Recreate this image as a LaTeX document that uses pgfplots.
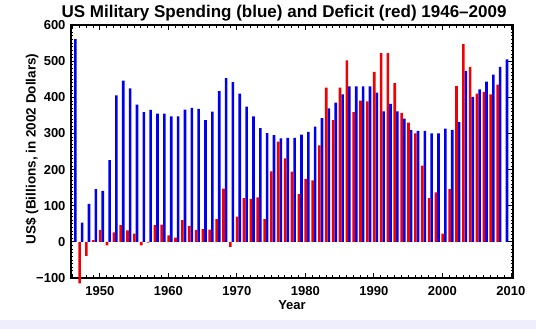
\documentclass[border=0pt]{standalone}
\usepackage{fontspec}
\setmainfont{Liberation Sans}
\usepackage{pgfplots}
\pgfplotsset{compat=1.18}
\usepackage{pgfplotstable}
\definecolor{barblue}{RGB}{0,0,240}
\definecolor{barred}{RGB}{240,0,0}
\definecolor{strip}{RGB}{238,238,252}

\pgfplotstableread{
year val
1946 561
1947 53
1948 105
1949 146
1950 141
1951 226
1952 405
1953 446
1954 425
1955 380
1956 359
1957 365
1958 355
1959 355
1960 347
1961 347
1962 366
1963 371
1964 368
1965 337
1966 360
1967 417
1968 453
1969 442
1970 410
1971 374
1972 347
1973 315
1974 301
1975 295
1976 286
1977 288
1978 288
1979 297
1980 304
1981 319
1982 342
1983 369
1984 385
1985 408
1986 430
1987 430
1988 430
1989 430
1990 413
1991 361
1992 382
1993 361
1994 341
1995 309
1996 307
1997 307
1998 300
1999 300
2000 313
2001 310
2002 331
2003 473
2004 401
2005 422
2006 443
2007 463
2008 484
2009 505
}\military

\pgfplotstableread{
year val
1947 -115
1948 -39
1949 5
1950 33
1951 -10
1952 26
1953 46
1954 32
1955 23
1956 -10
1957 -2
1958 46
1959 48
1960 18
1961 12
1962 60
1963 44
1964 33
1965 35
1966 34
1967 63
1968 147
1969 -14
1970 70
1971 121
1972 119
1973 123
1974 63
1975 195
1976 277
1977 231
1978 194
1979 132
1980 174
1981 170
1982 267
1983 427
1984 337
1985 427
1986 502
1987 359
1988 391
1989 389
1990 470
1991 522
1992 522
1993 439
1994 357
1995 330
1996 300
1997 211
1998 121
1999 137
2000 23
2001 146
2002 431
2003 547
2004 484
2005 410
2006 415
2007 408
2008 435
}\deficit

\begin{document}
\begin{tikzpicture}
\path[use as bounding box] (0pt,0pt) rectangle (536pt,329pt);
\fill[strip] (0pt,0pt) rectangle (536pt,9pt);
\begin{axis}[
  at={(71pt,51pt)}, anchor=south west,
  width=442pt, height=253pt, scale only axis,
  xmin=1945.8, xmax=2010.3, ymin=-100, ymax=600,
  clip=false,
  axis line style={line width=1.2pt},
  tick style={black, line width=0.8pt},
  tick align=inside,
  major tick length=5pt, minor tick length=2.5pt,
  xtick={1940,1950,...,2010}, minor x tick num=9,
  ytick={-100,0,...,600}, minor y tick num=9,
  yticklabels={−100,0,100,200,300,400,500,600},
  /pgf/number format/assume math mode=true,
  x tick label style={/pgf/number format/1000 sep=},
  ticklabel style={font=\fontsize{13}{13}\selectfont\bfseries},
  xticklabel style={anchor=base, yshift=-18pt},
  yticklabel style={anchor=east, xshift=-2pt},
  title={US Military Spending (blue) and Deficit (red) 1946–2009},
  every axis title/.style={at={(axis description cs:0.482,1)}, anchor=base, yshift=8pt,
    font=\fontsize{17}{17}\selectfont\bfseries},
  xlabel={Year},
  every axis x label/.style={at={(axis description cs:0.5,0)}, anchor=base, yshift=-32pt,
    font=\fontsize{13}{13}\selectfont\bfseries},
  ylabel={US\$ (Billions, in 2002 Dollars)},
  every axis y label/.style={at={(axis description cs:-0.088,0.51)}, rotate=90, anchor=center,
    font=\fontsize{13.5}{13.5}\selectfont\bfseries},
]
\addplot[ybar, bar width=0.38, bar shift=0.43, fill=barblue, draw=none] table[x=year, y=val] {\military};
\addplot[ybar, bar width=0.38, bar shift=0.05, fill=barred, draw=none] table[x=year, y=val] {\deficit};
\end{axis}
\end{tikzpicture}
\end{document}
